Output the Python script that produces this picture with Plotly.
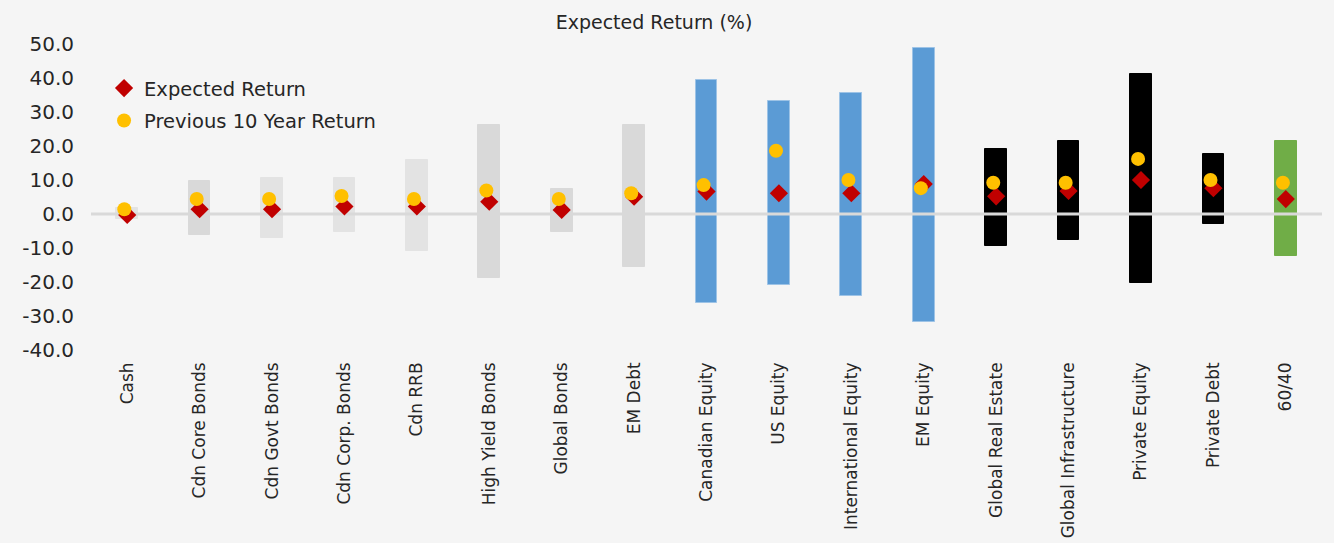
import plotly.graph_objects as go

# Asset classes along the horizontal axis
categories = [
    "Cash", "Cdn Core Bonds", "Cdn Govt Bonds", "Cdn Corp. Bonds", "Cdn RRB",
    "High Yield Bonds", "Global Bonds", "EM Debt", "Canadian Equity", "US Equity",
    "International Equity", "EM Equity", "Global Real Estate", "Global Infrastructure",
    "Private Equity", "Private Debt", "60/40",
]

# Range of annual returns (%): low and high ends of each bar
range_low = [-1.4, -6.2, -7.0, -5.2, -10.8, -18.7, -5.2, -15.5, -26.3, -20.9,
             -24.0, -31.9, -9.3, -7.5, -20.2, -2.9, -12.3]
range_high = [1.8, 9.7, 10.6, 10.6, 15.9, 26.2, 7.4, 26.2, 39.4, 33.2,
              35.5, 48.8, 19.1, 21.5, 41.2, 17.6, 21.5]

# Point estimates (%)
expected_return = [-0.3, 1.4, 1.4, 2.2, 2.2, 3.6, 1.2, 5.1, 6.6, 6.1,
                   6.1, 8.8, 5.2, 6.8, 10.0, 7.6, 4.4]
previous_10y_return = [1.4, 4.4, 4.4, 5.3, 4.4, 6.9, 4.4, 6.1, 8.5, 18.6,
                       10.0, 7.6, 9.2, 9.2, 16.2, 10.0, 9.2]

# Bar colour per asset group
bar_colors = (["#e3e3e3", "#d9d9d9", "#e3e3e3", "#e3e3e3", "#e3e3e3",
               "#d9d9d9", "#d9d9d9", "#d9d9d9"]
              + ["#5b9bd5"] * 4
              + ["#000000"] * 4
              + ["#70ad47"])
bar_edges = ["#9dc3e6" if c == "#5b9bd5" else c for c in bar_colors]

y_ticks = [50, 40, 30, 20, 10, 0, -10, -20, -30, -40]

FONT = "'DejaVu Sans', sans-serif"
TEXT = "#262626"

xs = list(range(len(categories)))
spans = [h - l for h, l in zip(range_high, range_low)]
x_lo, x_hi = -0.5, len(categories) - 0.5

fig = go.Figure()

fig.add_trace(go.Bar(
    x=xs, y=spans, base=range_low, width=0.30,
    marker=dict(color=bar_colors, line=dict(color=bar_edges, width=1)),
    showlegend=False, hoverinfo="skip",
))

# Horizontal baseline at zero, drawn over the bars and under the markers
fig.add_trace(go.Scatter(
    x=[x_lo, x_hi], y=[0, 0], mode="lines",
    line=dict(color="#d9d9d9", width=3),
    showlegend=False, hoverinfo="skip", cliponaxis=False,
))

fig.add_trace(go.Scatter(
    x=xs, y=expected_return, mode="markers", name="Expected Return",
    marker=dict(symbol="diamond", size=14, color="#c00000"),
    legendgroup="a",
))

fig.add_trace(go.Scatter(
    x=[x - 0.04 for x in xs], y=previous_10y_return, mode="markers",
    name="Previous 10 Year Return",
    marker=dict(symbol="circle", size=14, color="#ffc000"),
    legendgroup="b",
))

fig.update_layout(
    width=1334, height=543,
    paper_bgcolor="#f5f5f5", plot_bgcolor="#f5f5f5",
    margin=dict(l=91, r=12, t=44, b=193),
    font=dict(family=FONT, color=TEXT),
    title=dict(text="Expected Return (%)", x=654 / 1334, xanchor="center",
               xref="container", y=1 - 22 / 543, yanchor="middle", yref="container",
               font=dict(size=19, color=TEXT, family=FONT)),
    showlegend=True,
    legend=dict(x=0.0106, xref="paper", y=0.9185, yref="paper",
                xanchor="left", yanchor="top", bgcolor="rgba(0,0,0,0)",
                font=dict(size=19.5, color=TEXT, family=FONT),
                traceorder="grouped", tracegroupgap=4, itemwidth=30),
    bargap=0,
)

fig.update_xaxes(
    range=[x_lo, x_hi], automargin=False,
    tickmode="array", tickvals=xs, ticktext=categories,
    tickangle=-90, tickfont=dict(size=17, color=TEXT, family=FONT),
    showgrid=False, showline=False, zeroline=False, ticks="",
    ticklabelstandoff=8,
)

fig.update_yaxes(
    range=[-40, 50], automargin=False, tickmode="array", tickvals=y_ticks,
    ticktext=[f"{v:.1f}" for v in y_ticks],
    tickfont=dict(size=20, color=TEXT, family=FONT),
    showgrid=False, showline=False, ticks="", zeroline=False,
    ticklabelstandoff=16,
)

fig.write_html("out.html")
